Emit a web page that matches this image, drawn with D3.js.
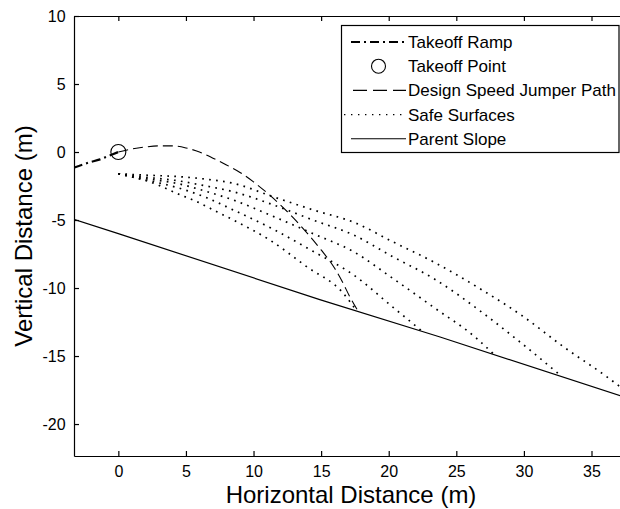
<!DOCTYPE html>
<html><head><meta charset="utf-8">
<script src="https://cdn.jsdelivr.net/npm/d3@7"></script>
<style>
body{margin:0;background:#fff;}
svg{display:block;}
text{font-family:"Liberation Sans",Arial,sans-serif;fill:#000;}
</style></head>
<body>
<svg id="chart" width="620" height="509"></svg>
<script>
// ---- data ----
const xTicks = [0, 5, 10, 15, 20, 25, 30, 35];
const yTicks = [-20, -15, -10, -5, 0, 5, 10];

const rampX = [-3.3, -2.2, -1.35, -0.5, 0];
const rampY = [-1.15, -0.78, -0.54, -0.2, 0];

const takeoffX = [0];
const takeoffY = [0];

const jumpX = [0, 1, 2, 3, 4, 5, 6, 7, 8, 9, 10, 11, 12, 13, 14, 15, 16, 16.6, 17.1, 17.7];
const jumpY = [0, 0.22, 0.37, 0.45, 0.45, 0.3, 0.0, -0.45, -0.95, -1.5, -2.2, -3.0, -3.9, -4.9, -6.0, -7.2, -8.55, -9.6, -10.6, -11.65];

const safe1X = [0, 2.96, 4.32, 5.8, 7.28, 8.76, 11.2, 13.93, 16.64, 17.6];
const safe1Y = [-1.6, -2.43, -3.04, -3.65, -4.39, -5.13, -6.47, -8.43, -10.39, -11.65];
const safe2X = [0, 2, 4.3, 6.5, 8.5, 11.5, 14.4, 17.4, 20.3, 22.5];
const safe2Y = [-1.6, -2.05, -2.6, -3.35, -4.26, -5.7, -7.3, -9.04, -11.4, -13.2];
const safe3X = [0, 2, 4.3, 6.5, 8.5, 11.5, 14.4, 17.4, 20.3, 23.3, 26.5, 27.7];
const safe3Y = [-1.6, -1.95, -2.3, -2.9, -3.53, -4.75, -6.0, -7.33, -9.29, -11.4, -13.7, -14.8];
const safe4X = [0, 2, 4.3, 6.5, 8.5, 11.5, 14.4, 17.4, 20.3, 23.3, 27.05, 29.5, 32.8];
const safe4Y = [-1.6, -1.85, -2.1, -2.5, -2.92, -3.9, -5.0, -6.1, -7.7, -9.29, -11.9, -13.8, -16.5];
const safe5X = [0, 2, 4.3, 6.5, 8.5, 11.46, 14.42, 17.5, 20.3, 23.3, 27, 29.96, 32.9, 36.1, 37.7];
const safe5Y = [-1.6, -1.7, -1.8, -2.0, -2.3, -3.29, -4.26, -5.2, -6.6, -8.07, -10.2, -12.1, -14.3, -16.5, -17.7];

const parentX = [-3.3, 0, 14.9, 23.8, 37.7];
const parentY = [-4.95, -6.0, -10.85, -13.6, -18.1];

const legendLabels = ["Takeoff Ramp", "Takeoff Point", "Design Speed Jumper Path", "Safe Surfaces", "Parent Slope"];
const xTitle = "Horizontal Distance (m)";
const yTitle = "Vertical Distance (m)";

// ---- layout ----
const L = 74, R = 628, T = 16, B = 456;
const svg = d3.select("#chart");
const x = d3.scaleLinear().domain([-3.28, 37.7]).range([L, R]);
const y = d3.scaleLinear().domain([-22.35, 10]).range([B, T]);

svg.append("rect").attr("width", 620).attr("height", 509).attr("fill", "#fff");

svg.append("defs").append("clipPath").attr("id", "clip")
  .append("rect").attr("x", L).attr("y", T).attr("width", R - L).attr("height", B - T);

const zip = (xs, ys) => xs.map((v, i) => [v, ys[i]]);
const line = d3.line().x(d => x(d[0])).y(d => y(d[1])).curve(d3.curveMonotoneX);
const straight = d3.line().x(d => x(d[0])).y(d => y(d[1]));

const plot = svg.append("g").attr("clip-path", "url(#clip)");

// parent slope
plot.append("path").attr("d", straight(zip(parentX, parentY)))
  .attr("fill", "none").attr("stroke", "#000").attr("stroke-width", 1.2);

// safe surfaces
[[safe1X, safe1Y], [safe2X, safe2Y], [safe3X, safe3Y], [safe4X, safe4Y], [safe5X, safe5Y]].forEach(([xs, ys]) => {
  plot.append("path").attr("d", line(zip(xs, ys)))
    .attr("fill", "none").attr("stroke", "#000").attr("stroke-width", 1.7)
    .attr("stroke-dasharray", "1.7,5.3");
});

// jumper path
plot.append("path").attr("d", line(zip(jumpX, jumpY)))
  .attr("fill", "none").attr("stroke", "#000").attr("stroke-width", 1.1)
  .attr("stroke-dasharray", "10,5");

// takeoff ramp
plot.append("path").attr("d", line(zip(rampX, rampY)))
  .attr("fill", "none").attr("stroke", "#000").attr("stroke-width", 2.2)
  .attr("stroke-dasharray", "9,4,2,4");

// takeoff point
plot.selectAll("circle.tp").data(zip(takeoffX, takeoffY)).enter().append("circle")
  .attr("class", "tp").attr("cx", d => x(d[0])).attr("cy", d => y(d[1])).attr("r", 7.5)
  .attr("fill", "none").attr("stroke", "#000").attr("stroke-width", 1.1);

// ---- axes (MATLAB box style, inward ticks) ----
const tk = 5;
const xAxisB = d3.axisBottom(x).tickValues(xTicks).tickSizeInner(-tk).tickSizeOuter(0).tickPadding(10).tickFormat(d3.format("d"));
const xAxisT = d3.axisTop(x).tickValues(xTicks).tickSizeInner(-tk).tickSizeOuter(0).tickFormat("");
const yAxisL = d3.axisLeft(y).tickValues(yTicks).tickSizeInner(-tk).tickSizeOuter(0).tickPadding(10).tickFormat(d => String(d));
const yAxisR = d3.axisRight(y).tickValues(yTicks).tickSizeInner(-tk).tickSizeOuter(0).tickFormat("");

const gB = svg.append("g").attr("transform", `translate(0,${B})`).call(xAxisB);
const gT = svg.append("g").attr("transform", `translate(0,${T})`).call(xAxisT);
const gL = svg.append("g").attr("transform", `translate(${L},0)`).call(yAxisL);
const gR = svg.append("g").attr("transform", `translate(${R},0)`).call(yAxisR);
[gB, gT, gL, gR].forEach(g => {
  g.selectAll(".domain").attr("stroke", "#000").attr("stroke-width", 1.2);
  g.selectAll(".tick line").attr("stroke", "#000").attr("stroke-width", 1.2);
  g.selectAll("text").attr("font-size", 16).attr("fill", "#000")
    .style("font-family", "'Liberation Sans', Arial, sans-serif");
});
gL.selectAll("text").attr("dx", "0.1em");

// titles
svg.append("text").attr("x", (L + R) / 2).attr("y", 503).attr("text-anchor", "middle")
  .attr("font-size", 24).text(xTitle);
svg.append("text").attr("transform", `translate(32,${(T + B) / 2}) rotate(-90)`)
  .attr("text-anchor", "middle").attr("font-size", 24).text(yTitle);

// ---- legend ----
const lg = svg.append("g");
lg.append("rect").attr("x", 341.5).attr("y", 25.5).attr("width", 277.5).attr("height", 127)
  .attr("fill", "#fff").attr("stroke", "#000").attr("stroke-width", 1.2);
const ly0 = 42, ldy = 24.2, lx1 = 351, lx2 = 406, ltx = 408;
legendLabels.forEach((lab, i) => {
  const yy = ly0 + i * ldy;
  if (i === 0) lg.append("line").attr("x1", lx1).attr("x2", lx2).attr("y1", yy).attr("y2", yy)
    .attr("stroke", "#000").attr("stroke-width", 2.2).attr("stroke-dasharray", "9,4,2,4");
  if (i === 1) lg.append("circle").attr("cx", (lx1 + lx2) / 2).attr("cy", yy).attr("r", 7)
    .attr("fill", "none").attr("stroke", "#000").attr("stroke-width", 1.1);
  if (i === 2) lg.append("line").attr("x1", lx1 + 2).attr("x2", lx2).attr("y1", yy).attr("y2", yy)
    .attr("stroke", "#000").attr("stroke-width", 1.1).attr("stroke-dasharray", "14,6");
  if (i === 3) lg.append("line").attr("x1", lx1 - 7).attr("x2", lx2).attr("y1", yy).attr("y2", yy)
    .attr("stroke", "#000").attr("stroke-width", 1.4).attr("stroke-dasharray", "1.4,5.6");
  if (i === 4) lg.append("line").attr("x1", lx1).attr("x2", lx2).attr("y1", yy).attr("y2", yy)
    .attr("stroke", "#000").attr("stroke-width", 1.1);
  lg.append("text").attr("x", ltx).attr("y", yy).attr("dy", "0.35em")
    .attr("font-size", 17).text(lab);
});
</script>
</body></html>
